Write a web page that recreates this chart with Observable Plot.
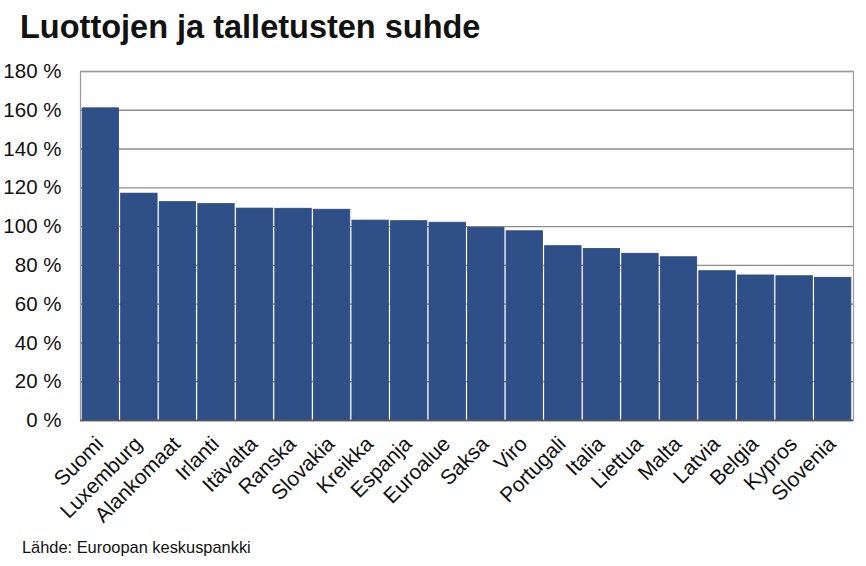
<!DOCTYPE html>
<html>
<head>
<meta charset="utf-8">
<script src="https://cdn.jsdelivr.net/npm/d3@7"></script>
<script src="https://cdn.jsdelivr.net/npm/@observablehq/plot@0.6"></script>
<style>
  html, body { margin: 0; padding: 0; background: #fff; }
  body { width: 866px; height: 566px; position: relative; overflow: hidden; font-family: "Liberation Sans", Arial, sans-serif; }
  #title { position: absolute; left: 20px; top: 8px; font-size: 32.5px; font-weight: bold; color: #111; line-height: 1.2; }
  #chart { position: absolute; left: 0; top: 60px; }
  #caption { position: absolute; left: 22px; top: 538px; font-size: 16.4px; color: #111; }
</style>
</head>
<body>
<div id="title">Luottojen ja talletusten suhde</div>
<div id="chart"></div>
<div id="caption">Lähde: Euroopan keskuspankki</div>
<script>
const countries = ["Suomi","Luxemburg","Alankomaat","Irlanti","Itävalta","Ranska","Slovakia","Kreikka","Espanja","Euroalue","Saksa","Viro","Portugali","Italia","Liettua","Malta","Latvia","Belgia","Kypros","Slovenia"];
const ratios = [161, 117, 112.6, 111.6, 109.3, 109.2, 108.7, 103.1, 102.8, 102, 99.4, 97.6, 89.9, 88.5, 86, 84.2, 77, 74.8, 74.4, 73.6];
const yTicks = [0, 20, 40, 60, 80, 100, 120, 140, 160, 180];

const data = countries.map((c, i) => ({country: c, value: ratios[i]}));

const chart = Plot.plot({
  width: 866,
  height: 475,
  marginTop: 11,
  marginLeft: 80,
  marginRight: 13,
  marginBottom: 115,
  style: {fontFamily: "'Liberation Sans', Arial, sans-serif", color: "#111", background: "#fff"},
  x: {domain: countries, padding: 0.055, round: false},
  y: {domain: [0, 180]},
  marks: [
    Plot.ruleY(yTicks, {stroke: "#8c8c8c", strokeWidth: 1.4}),
    Plot.barY(data, {x: "country", y: "value", fill: "#2f4f88", stroke: "#2a4780", strokeWidth: 0.8}),
    Plot.frame({stroke: "#9a9a9a", strokeWidth: 1.2}),
    Plot.ruleX([0], {frameAnchor: "left", stroke: "#7a7a7a", strokeWidth: 1.5}),
    Plot.ruleY([0], {stroke: "#555", strokeWidth: 1.5}),
    Plot.axisY(yTicks, {tickSize: 0, tickPadding: 19, fontSize: 20.5, tickFormat: d => d + " %", label: null}),
    Plot.axisX({tickSize: 0, tickPadding: 20, tickRotate: -45, fontSize: 21, label: null, dx: -1})
  ]
});
document.getElementById("chart").appendChild(chart);
</script>
</body>
</html>
